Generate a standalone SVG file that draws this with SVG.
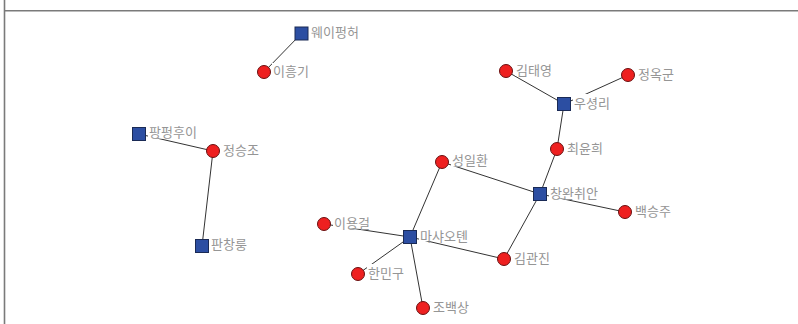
<svg xmlns="http://www.w3.org/2000/svg" width="798" height="324" viewBox="0 0 798 324">
<style>
.e{stroke:#333;stroke-width:1;fill:none}
.c{fill:#ee2020;stroke:#6a1010;stroke-width:1}
.s{fill:#2c4ea2;stroke:#1a2a55;stroke-width:1}
.bg{fill:#fff}
.t{font-family:"Noto Sans CJK KR","Noto Sans",sans-serif;font-size:13px;fill:#959595}
.f{stroke:#7a7a7a;stroke-width:1.6;fill:none}
</style>
<rect width="798" height="324" fill="#fff"/>
<line class="f" x1="4.5" y1="0" x2="4.5" y2="324"/>
<line class="f" x1="4.5" y1="10.8" x2="798" y2="10.8"/>
<g id="connectors">
<line class="e" x1="301" y1="34" x2="264" y2="72"/>
<line class="e" x1="139" y1="134" x2="213" y2="151"/>
<line class="e" x1="213" y1="151" x2="202" y2="246"/>
<line class="e" x1="410" y1="237" x2="442" y2="162"/>
<line class="e" x1="410" y1="237" x2="324" y2="224"/>
<line class="e" x1="410" y1="237" x2="358" y2="274"/>
<line class="e" x1="410" y1="237" x2="423" y2="308"/>
<line class="e" x1="410" y1="237" x2="504" y2="259"/>
<line class="e" x1="540" y1="194" x2="442" y2="162"/>
<line class="e" x1="540" y1="194" x2="504" y2="259"/>
<line class="e" x1="540" y1="194" x2="625" y2="212"/>
<line class="e" x1="540" y1="194" x2="557" y2="149"/>
<line class="e" x1="557" y1="149" x2="564" y2="104"/>
<line class="e" x1="564" y1="104" x2="506" y2="71"/>
<line class="e" x1="564" y1="104" x2="628" y2="75"/>
</g>
<g id="n-weipenghe"><rect class="s" x="295" y="27" width="13" height="13"/><rect class="bg" x="310" y="24" width="54" height="15"/><text class="t" x="311" y="37">웨이펑허</text></g>
<g id="n-leeheunggi"><circle class="c" cx="264" cy="72" r="6.5"/><rect class="bg" x="272" y="63" width="42" height="15"/><text class="t" x="273" y="76">이흥기</text></g>
<g id="n-fangfenghui"><rect class="s" x="132.5" y="127.5" width="13" height="13"/><rect class="bg" x="148" y="124" width="56" height="14.5"/><text class="t" x="149" y="137">팡펑후이</text></g>
<g id="n-jeongseungjo"><circle class="c" cx="213" cy="151" r="6.5"/><rect class="bg" x="222" y="141" width="42" height="15"/><text class="t" x="223" y="155">정승조</text></g>
<g id="n-panchanglong"><rect class="s" x="195.5" y="239.5" width="13" height="13"/><rect class="bg" x="210" y="236" width="42" height="15"/><text class="t" x="211" y="249">판창룽</text></g>
<g id="n-mashaotian"><rect class="s" x="403.5" y="230.5" width="13" height="13"/><rect class="bg" x="419" y="227" width="56" height="14"/><text class="t" x="420" y="241">마샤오톈</text></g>
<g id="n-seongilhwan"><circle class="c" cx="442" cy="162" r="6.5"/><rect class="bg" x="451" y="152" width="42" height="14.5"/><text class="t" x="452" y="165">성일환</text></g>
<g id="n-leeyonggeol"><circle class="c" cx="324" cy="224" r="6.5"/><rect class="bg" x="333" y="214" width="42" height="14.5"/><text class="t" x="334" y="228">이용걸</text></g>
<g id="n-hanmingu"><circle class="c" cx="358" cy="274" r="6.5"/><rect class="bg" x="367" y="264" width="42" height="15"/><text class="t" x="368" y="278">한민구</text></g>
<g id="n-jobaeksang"><circle class="c" cx="423" cy="308" r="6.5"/><rect class="bg" x="432" y="298" width="42" height="15"/><text class="t" x="433" y="312">조백상</text></g>
<g id="n-kimgwanjin"><circle class="c" cx="504" cy="259" r="6.5"/><rect class="bg" x="513" y="249" width="42" height="15"/><text class="t" x="514" y="263">김관진</text></g>
<g id="n-changwanquan"><rect class="s" x="533.5" y="187.5" width="13" height="13"/><rect class="bg" x="549" y="184" width="56" height="14.5"/><text class="t" x="550" y="198">창완취안</text></g>
<g id="n-baekseungju"><circle class="c" cx="625" cy="212" r="6.5"/><rect class="bg" x="634" y="202" width="42" height="15"/><text class="t" x="635" y="216">백승주</text></g>
<g id="n-choeyunhui"><circle class="c" cx="557" cy="149" r="6.5"/><rect class="bg" x="566" y="139" width="42" height="15"/><text class="t" x="567" y="153">최윤희</text></g>
<g id="n-wushengli"><rect class="s" x="557.5" y="97.5" width="13" height="13"/><rect class="bg" x="573" y="94" width="42" height="14.5"/><text class="t" x="574" y="108">우셩리</text></g>
<g id="n-kimtaeyoung"><circle class="c" cx="506" cy="71" r="6.5"/><rect class="bg" x="515" y="61" width="42" height="15"/><text class="t" x="516" y="75">김태영</text></g>
<g id="n-jeongokgun"><circle class="c" cx="628" cy="75" r="6.5"/><rect class="bg" x="637" y="65" width="42" height="15"/><text class="t" x="638" y="79">정옥군</text></g>
</svg>
